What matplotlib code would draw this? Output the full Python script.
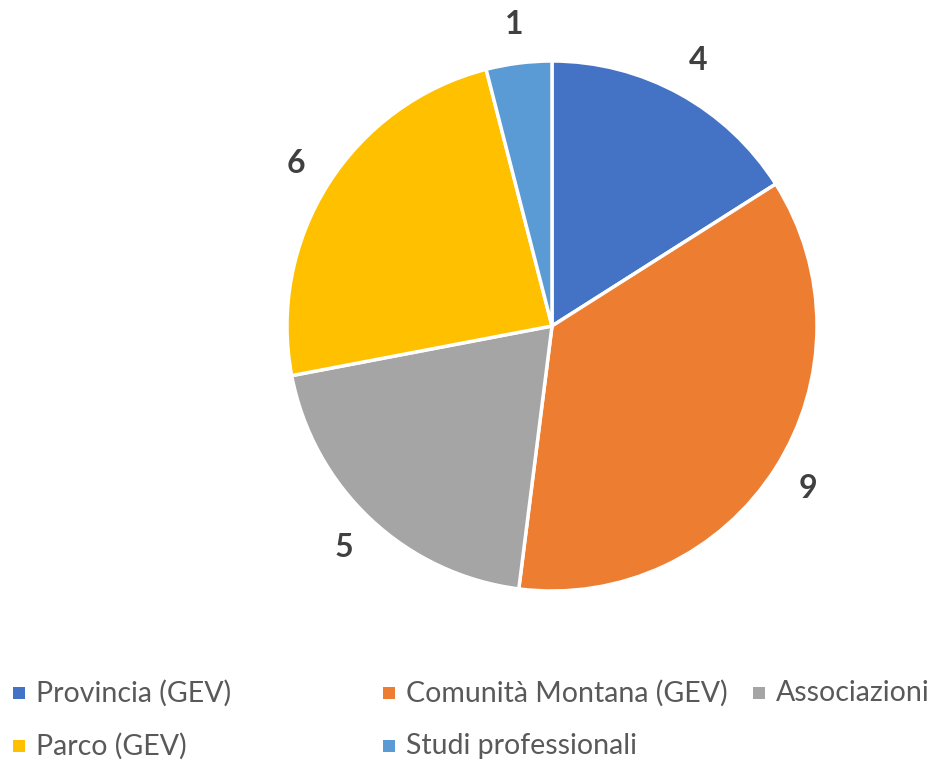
import matplotlib.pyplot as plt
from matplotlib.patches import Rectangle

categorie = ["Provincia (GEV)", "Comunità Montana (GEV)", "Associazioni",
             "Parco (GEV)", "Studi professionali"]
valori = [4, 9, 5, 6, 1]
colori = ["#4472C4", "#ED7D31", "#A5A5A5", "#FFC000", "#5B9BD5"]

plt.rcParams['font.family'] = ['Lato', 'DejaVu Sans']

W, H = 936, 762
fig = plt.figure(figsize=(W / 100, H / 100), dpi=100)

# torta: centro (552, 326), raggio 265 px
cx, cy, r = 552, 326, 265
ax = fig.add_axes([(cx - r) / W, (H - cy - r) / H, 2 * r / W, 2 * r / H])
wedges, testi = ax.pie(valori, labels=[str(v) for v in valori], colors=colori,
                       startangle=90, counterclock=False, labeldistance=1.145,
                       wedgeprops=dict(edgecolor="white", linewidth=2.5),
                       textprops=dict(fontsize=23, fontweight="bold", color="#404040"))
for t in testi:
    t.set_ha("center")
    t.set_va("center")
ax.set_xlim(-1, 1)
ax.set_ylim(-1, 1)
ax.axis("off")

# legenda fatta a mano (3 colonne, 2 righe)
col_x = [13, 383, 753]
riga_y = [693, 746]
for i, (nome, c) in enumerate(zip(categorie, colori)):
    x = col_x[i % 3]
    y = riga_y[i // 3]
    fig.patches.append(Rectangle((x / W, (H - y - 6) / H), 12 / W, 12 / H,
                                 facecolor=c, transform=fig.transFigure, figure=fig))
    fig.text((x + 23) / W, (H - y) / H, nome, fontsize=20.5, color="#595959",
             va="center", ha="left")

fig.savefig("out.png", dpi=100)
